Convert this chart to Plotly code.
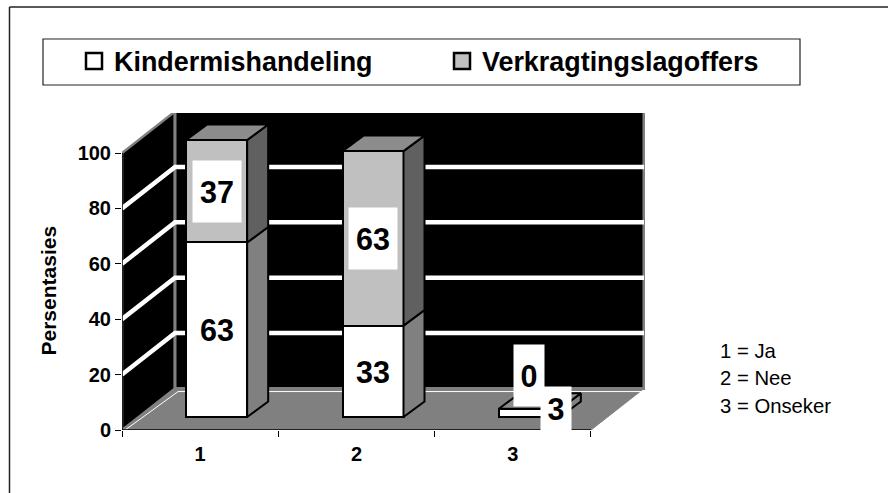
import plotly.graph_objects as go

# ---- data ----
categories = ["1", "2", "3"]
series_names = ["Kindermishandeling", "Verkragtingslagoffers"]
child_abuse = [63, 33, 3]
rape_victims = [37, 63, 0]
y_ticks = [0, 20, 40, 60, 80, 100]
key_lines = ["1 = Ja", "2 = Nee", "3 = Onseker"]

# ---- pseudo-3D geometry in axis units ----
W, H = 888, 493
PX_L, PX_R, PX_T, PX_B = 122, 645, 113, 430
X_UNIT = 156.33          # px per category
Y_UNIT = 2.77            # px per percent
WALL_DX = 53 / X_UNIT    # oblique shift of the back wall
WALL_DY = 41.5 / Y_UNIT
BAR_SHIFT = 16.5 / X_UNIT
BAR_BASE = 13 / Y_UNIT
BAR_W = 61 / X_UNIT
SIDE_DX = 21 / X_UNIT
SIDE_DY = 15.5 / Y_UNIT

WHITE, LIGHT, MID, DARK, TOP = "#ffffff", "#c0c0c0", "#808080", "#606060", "#8c8c8c"
FONT = "Liberation Sans, Arial, sans-serif"

n = len(categories)
centers = [i + 0.5 + BAR_SHIFT for i in range(n)]


def px_x(px):
    return (px - PX_L) / (PX_R - PX_L)


def px_y(px):
    return (PX_B - px) / (PX_B - PX_T)


def poly(xs, ys, fill, line="#000000", lw=2, group=None):
    return go.Scatter(x=xs + xs[:1], y=ys + ys[:1], mode="lines", fill="toself",
                      fillcolor=fill, line=dict(color=line, width=lw),
                      hoverinfo="skip", showlegend=False, legendgroup=group)


def poly_shape(xs, ys, fill, line, lw):
    path = "M" + " L".join(f"{x:.4f},{y:.4f}" for x, y in zip(xs, ys)) + " Z"
    return dict(type="path", path=path, xref="x", yref="y", fillcolor=fill, layer="below",
                line=dict(color=line, width=lw))


def polyline_shape(xs, ys, color, lw):
    path = "M" + " L".join(f"{x:.4f},{y:.4f}" for x, y in zip(xs, ys))
    return dict(type="path", path=path, xref="x", yref="y", layer="below", line=dict(color=color, width=lw))


fig = go.Figure()

ax_x_max = (PX_R - PX_L) / X_UNIT
ax_y_max = (PX_B - PX_T) / Y_UNIT

shapes = [
    # outer frame: left and top edges only
    dict(type="line", xref="paper", yref="paper", x0=px_x(9.5), x1=px_x(9.5), y0=px_y(493), y1=px_y(7),
         line=dict(color="#222222", width=1.5)),
    dict(type="line", xref="paper", yref="paper", x0=px_x(9.5), x1=px_x(888), y0=px_y(7), y1=px_y(7),
         line=dict(color="#222222", width=1.5)),
    # legend box
    dict(type="rect", xref="paper", yref="paper", x0=px_x(43), x1=px_x(800), y0=px_y(85), y1=px_y(39),
         line=dict(color="#222222", width=1.2), fillcolor=WHITE, layer="below"),
    # walls and floor
    poly_shape([0, WALL_DX, WALL_DX, 0], [0, WALL_DY, 100 + WALL_DY, 100], "#000000", MID, 2.5),
    poly_shape([WALL_DX, n + WALL_DX, n + WALL_DX, WALL_DX], [WALL_DY, WALL_DY, 100 + WALL_DY, 100 + WALL_DY],
               "#000000", MID, 3),
    poly_shape([0, n, n + WALL_DX, WALL_DX], [0, 0, WALL_DY, WALL_DY], MID, MID, 1),
    # thin white rim where the walls meet the floor
    polyline_shape([0.02, WALL_DX + 0.02, n + WALL_DX - 0.005], [0, WALL_DY - 1.1, WALL_DY - 1.1], WHITE, 1),
]
# gridlines on the walls
for t in y_ticks[1:-1]:
    shapes.append(polyline_shape([0, WALL_DX, n + WALL_DX], [t, t + WALL_DY, t + WALL_DY], WHITE, 4.5))

# bars: right/top faces computed from the values
for i in range(n):
    x0, x1 = centers[i] - BAR_W / 2, centers[i] + BAR_W / 2
    y_a = BAR_BASE + child_abuse[i]
    y_b = y_a + rape_victims[i]
    fig.add_trace(poly([x1, x1 + SIDE_DX, x1 + SIDE_DX, x1],
                       [BAR_BASE, BAR_BASE + SIDE_DY, y_a + SIDE_DY, y_a], MID, group=series_names[0]))
    fig.add_trace(poly([x1, x1 + SIDE_DX, x1 + SIDE_DX, x1],
                       [y_a, y_a + SIDE_DY, y_b + SIDE_DY, y_b], DARK, group=series_names[1]))
    fig.add_trace(poly([x0, x0 + SIDE_DX, x1 + SIDE_DX, x1],
                       [y_b, y_b + SIDE_DY, y_b + SIDE_DY, y_b], TOP, group=series_names[1]))

# front faces
fig.add_trace(go.Bar(x=centers, y=child_abuse, base=[BAR_BASE] * n, width=BAR_W, name=series_names[0],
                     legendgroup=series_names[0], showlegend=False,
                     marker=dict(color=WHITE, line=dict(color="#000000", width=2))))
fig.add_trace(go.Bar(x=centers, y=rape_victims, base=[BAR_BASE + v for v in child_abuse], width=BAR_W,
                     name=series_names[1], legendgroup=series_names[1], showlegend=False,
                     marker=dict(color=LIGHT, line=dict(color="#000000", width=2))))

# legend entries, one legend box each so they can sit side by side
for name, col, lg in zip(series_names, [WHITE, LIGHT], ["legend", "legend2"]):
    fig.add_trace(go.Scatter(x=[None], y=[None], mode="markers", name=name, legendgroup=name, legend=lg,
                             marker=dict(symbol="square", size=16, color=col, line=dict(color="#000000", width=2.5))))

# axis lines
fig.add_trace(go.Scatter(x=[0, 0], y=[0, 100], mode="lines", line=dict(color="#000000", width=1.5),
                         hoverinfo="skip", showlegend=False))
fig.add_trace(go.Scatter(x=[0, n], y=[0, 0], mode="lines", line=dict(color="#000000", width=1.5),
                         hoverinfo="skip", showlegend=False, cliponaxis=False))

annotations = []
LABEL_W, LABEL_H = 46, 59
LABEL_FONT = dict(size=30.5, family=FONT, color="#000000")
for i in range(2):
    a, b = child_abuse[i], rape_victims[i]
    annotations.append(dict(x=centers[i], y=BAR_BASE + a / 2, text=f"<b>{a}</b>", showarrow=False, bgcolor=WHITE,
                            width=LABEL_W, height=LABEL_H, font=LABEL_FONT))
    annotations.append(dict(x=centers[i], y=BAR_BASE + a + b / 2, text=f"<b>{b}</b>", showarrow=False, bgcolor=WHITE,
                            width=LABEL_W, height=LABEL_H, font=LABEL_FONT))
# bar 3 labels sit away from their tiny segments
annotations.append(dict(x=centers[2], y=BAR_BASE + child_abuse[2], text=f"<b>{rape_victims[2]}</b>", showarrow=False,
                        bgcolor=WHITE, width=28, height=LABEL_H, yshift=33, font=LABEL_FONT))
annotations.append(dict(x=centers[2], y=BAR_BASE + child_abuse[2] / 2, text=f"<b>{child_abuse[2]}</b>", showarrow=False,
                        bgcolor=WHITE, width=28, height=42, xshift=27, yshift=4, font=LABEL_FONT))

# axis title and key text
annotations.append(dict(xref="paper", yref="paper", x=px_x(48), y=px_y(290.5), xanchor="center", yanchor="middle",
                        text="<b>Persentasies</b>", textangle=-90, showarrow=False,
                        font=dict(size=21, family=FONT, color="#000000")))
for line, py in zip(key_lines, [351, 378, 405.5]):
    annotations.append(dict(xref="paper", yref="paper", x=px_x(718), y=px_y(py), yanchor="middle",
                            text=line, showarrow=False, xanchor="left",
                            font=dict(size=20.3, family=FONT, color="#000000")))

legend_common = dict(orientation="h", xanchor="left", yanchor="middle", y=px_y(61),
                     bgcolor="rgba(0,0,0,0)", borderwidth=0, itemsizing="trace",
                     itemclick=False, itemdoubleclick=False,
                     font=dict(size=26.9, family=FONT, color="#000000", weight="bold"))

fig.update_layout(
    width=W, height=H, autosize=False,
    margin=dict(l=PX_L, r=W - PX_R, t=PX_T, b=H - PX_B, pad=0),
    paper_bgcolor=WHITE, plot_bgcolor=WHITE,
    barmode="overlay", bargap=0,
    font=dict(family=FONT, color="#000000"),
    showlegend=True,
    legend=dict(x=px_x(74), **legend_common),
    legend2=dict(x=px_x(442), **legend_common),
    annotations=annotations, shapes=shapes,
    xaxis=dict(range=[0, ax_x_max], showgrid=False, zeroline=False, showline=False, fixedrange=True,
               tickmode="array", tickvals=[i + 0.5 for i in range(n)], ticktext=[f"<b>{c}</b>" for c in categories],
               ticks="", tickfont=dict(size=20, family=FONT, color="#000000"), ticklabelstandoff=10,
               minor=dict(tickmode="array", tickvals=list(range(n + 1)), ticks="outside", ticklen=6, tickwidth=1,
                          tickcolor="#000000", showgrid=False)),
    yaxis=dict(range=[0, ax_y_max], showgrid=False, zeroline=False, showline=False, fixedrange=True,
               tickmode="array", tickvals=y_ticks, ticktext=[f"<b>{t}</b>" for t in y_ticks],
               ticks="outside", ticklen=6, tickwidth=1, tickcolor="#000000",
               tickfont=dict(size=20, family=FONT, color="#000000")),
)

fig.write_html("out.html", config={"displayModeBar": False},
               post_script="document.body.style.margin='0';document.documentElement.style.overflow='hidden';")
